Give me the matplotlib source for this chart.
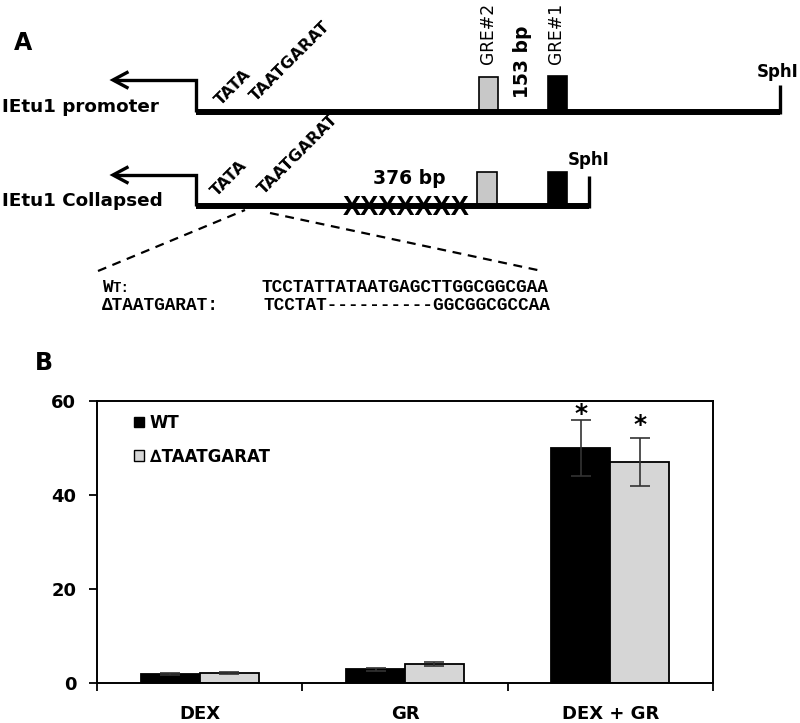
import matplotlib
matplotlib.use("Agg")
import matplotlib.pyplot as plt
from matplotlib.patches import Rectangle, Patch
import numpy as np

# ---------------- data (panel B) ----------------
categories = ["DEX", "GR", "DEX + GR"]
wt_values = [1.9, 2.9, 50.0]
wt_errors = [0.2, 0.3, 6.0]
mut_values = [2.1, 4.0, 47.0]
mut_errors = [0.2, 0.4, 5.1]
wt_significant = [False, False, True]
mut_significant = [False, False, True]
y_ticks = [0, 20, 40, 60]
series_labels = ["WT", "\u2206TAATGARAT"]

# ---------------- text content (panel A) ----------------
wt_seq = "TCCTATTATAATGAGCTTGGCGGCGAA"
mut_seq = "TCCTAT----------GGCGGCGCCAA"
row_labels = ["IEtu1 promoter", "IEtu1 Collapsed"]

plt.rcParams["font.family"] = ["DejaVu Sans"]
plt.rcParams["font.weight"] = "bold"

W, H = 800, 723
fig = plt.figure(figsize=(W / 100, H / 100), dpi=100)

# ---------------- panel A : schematic, pixel coordinates ----------------
axA = fig.add_axes([0, 0, 1, 1])
axA.set_xlim(0, W)
axA.set_ylim(H, 0)
axA.axis("off")

K = "black"
thick = 4.3
thin = 2.4


def promoter_row(y_line, y_arrow, x_end, y_end_top):
    # arrow (transcription start)
    axA.plot([196, 196, 114], [y_line, y_arrow, y_arrow], color=K, lw=thin,
             solid_joinstyle="miter", solid_capstyle="butt")
    axA.plot([127, 113, 127], [y_arrow - 7.5, y_arrow, y_arrow + 7.5], color=K, lw=thin,
             solid_joinstyle="miter")
    # main line
    axA.plot([196, x_end], [y_line, y_line], color=K, lw=thick, solid_capstyle="butt", zorder=3)
    axA.plot([x_end, x_end], [y_line + 2, y_end_top], color=K, lw=thin, solid_capstyle="butt")


# row 1 : promoter
promoter_row(111.5, 80, 780, 85)
axA.add_patch(Rectangle((479, 77), 19, 34, facecolor="#c8c8c8", edgecolor=K, lw=1.2, zorder=2))
axA.add_patch(Rectangle((548, 76), 19, 35, facecolor=K, edgecolor=K, lw=1.2, zorder=2))
axA.text(2, 107, row_labels[0], fontsize=13.2, ha="left", va="center")
axA.text(233, 87, "TATA", fontsize=11.7, rotation=45, ha="center", va="center")
axA.text(290, 61, "TAATGARAT", fontsize=11.7, rotation=45, ha="center", va="center")
axA.text(488, 33, "GRE#2", fontsize=12.3, fontweight="normal", rotation=90, ha="center", va="center")
axA.text(556, 33, "GRE#1", fontsize=12.3, fontweight="normal", rotation=90, ha="center", va="center")
axA.text(523, 62, "153 bp", fontsize=13.5, rotation=90, ha="center", va="center")
axA.text(757, 72, "SphI", fontsize=12, ha="left", va="center")

# row 2 : collapsed
promoter_row(205.5, 175, 589, 176)
axA.add_patch(Rectangle((477, 172), 20, 33, facecolor="#c8c8c8", edgecolor=K, lw=1.2, zorder=2))
axA.add_patch(Rectangle((548, 172), 19, 33, facecolor=K, edgecolor=K, lw=1.2, zorder=2))
axA.text(2, 201, row_labels[1], fontsize=13.2, ha="left", va="center")
axA.text(229, 178, "TATA", fontsize=11.7, rotation=45, ha="center", va="center")
axA.text(298, 154, "TAATGARAT", fontsize=11.7, rotation=45, ha="center", va="center")
axA.text(409, 178, "376 bp", fontsize=13.5, ha="center", va="center")
axA.text(406, 208, "XXXXXXX", fontsize=19.5, family="Liberation Sans", ha="center",
         va="center", zorder=4)
axA.text(568, 160, "SphI", fontsize=12, ha="left", va="center")

# zoom dashed lines
axA.plot([98, 245], [271, 210], color=K, lw=1.6, linestyle=(0, (4, 3)))
axA.plot([270, 542], [213, 271], color=K, lw=1.6, linestyle=(0, (4, 3)))

# sequences
mono = "Liberation Mono"
axA.text(102, 287, "W", fontsize=12.8, family=mono, ha="left", va="center")
axA.text(113, 288, "T:", fontsize=10.2, family=mono, ha="left", va="center")
axA.text(102, 306, "\u0394TAATGARAT:", fontsize=12.8, family=mono, ha="left", va="center")
axA.text(262, 287, wt_seq, fontsize=12.8, family=mono, ha="left", va="center")
axA.text(263, 306, mut_seq, fontsize=12.8, family=mono, ha="left", va="center")

# panel letters
axA.text(14, 43, "A", fontsize=17, ha="left", va="center")
axA.text(35, 363, "B", fontsize=17, ha="left", va="center")

# ---------------- panel B : bar chart ----------------
left, right, top, bottom = 97, 713, 401, 683
axB = fig.add_axes([left / W, (H - bottom) / H, (right - left) / W, (bottom - top) / H])
axB.set_facecolor("none")

x = np.arange(len(categories))
bw = 0.287
err_kw = dict(ecolor="#333333", elinewidth=1.2, capsize=7.5, capthick=1.2)
axB.bar(x - bw / 2, wt_values, bw, yerr=wt_errors, color="black", edgecolor="black",
        linewidth=1.3, error_kw=err_kw, label=series_labels[0], zorder=2)
axB.bar(x + bw / 2, mut_values, bw, yerr=mut_errors, color="#d6d6d6", edgecolor="black",
        linewidth=1.3, error_kw=err_kw, label=series_labels[1], zorder=2)

for i in range(len(categories)):
    if wt_significant[i]:
        axB.text(x[i] - bw / 2, wt_values[i] + wt_errors[i] + 1.3, "*", fontsize=18,
                 ha="center", va="center")
    if mut_significant[i]:
        axB.text(x[i] + bw / 2, mut_values[i] + mut_errors[i] + 2.9, "*", fontsize=18,
                 ha="center", va="center")

axB.set_xlim(-0.5, len(categories) - 0.5)
axB.set_ylim(0, 60)
axB.set_yticks(y_ticks)
axB.set_yticklabels([str(t) for t in y_ticks])
axB.set_xticks(np.arange(len(categories) + 1) - 0.5)
axB.set_xticklabels([])
axB.set_xticks(x, minor=True)
axB.set_xticklabels(categories, minor=True)
axB.tick_params(axis="x", which="major", direction="out", length=6, width=1.3)
axB.tick_params(axis="x", which="minor", length=0, pad=16, labelsize=13)
axB.tick_params(axis="y", direction="out", length=6, width=1.3, pad=9, labelsize=13)
for s in axB.spines.values():
    s.set_linewidth(1.4)

handles = [Patch(facecolor="black", edgecolor="black", lw=1.0),
           Patch(facecolor="#d6d6d6", edgecolor="black", lw=1.0)]
axB.legend(handles, series_labels, loc="upper left", bbox_to_anchor=(0.06, 0.955),
           frameon=False, fontsize=12, handlelength=0.6, handleheight=0.6,
           handletextpad=0.35, labelspacing=0.95, borderpad=0, borderaxespad=0)

fig.savefig("out.png", dpi=100)
